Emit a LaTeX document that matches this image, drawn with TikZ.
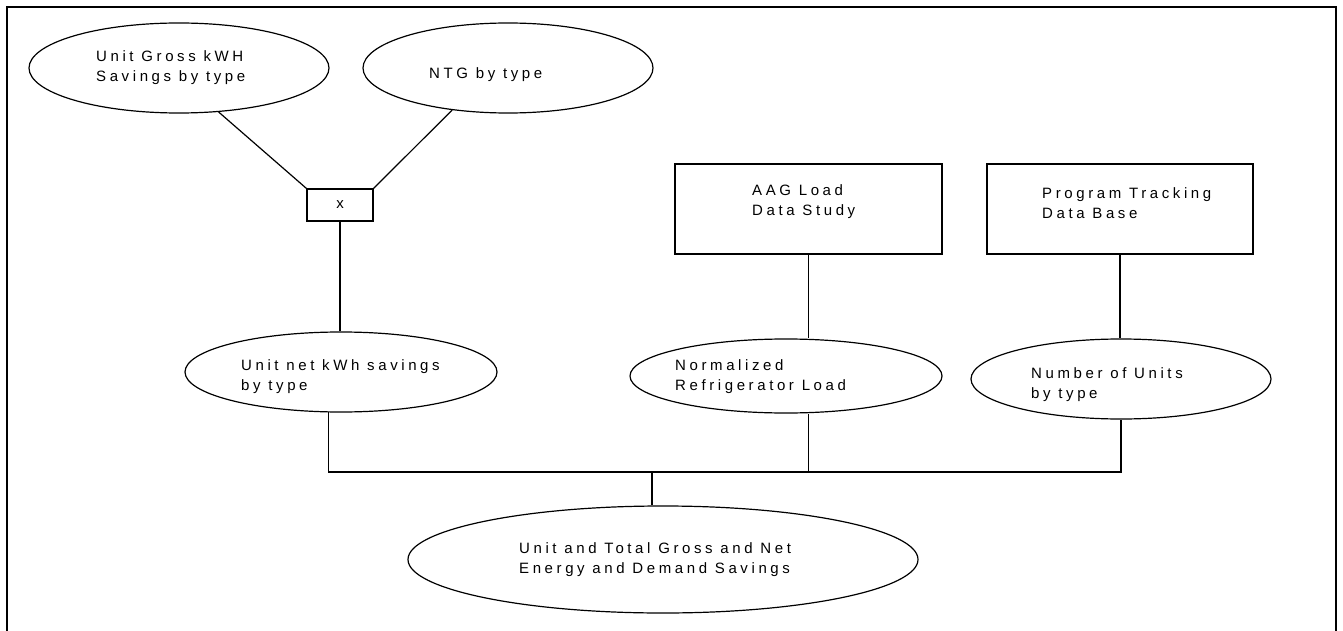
\documentclass[tikz,border=0pt]{standalone}
\usepackage{fontspec}
\usetikzlibrary{shapes.geometric}
\newfontfamily\arialsp[LetterSpace=24]{Liberation Sans}
\begin{document}
\begin{tikzpicture}[x=1pt,y=-1pt,
  oval/.style={draw,ellipse,line width=1.2pt,inner sep=0pt},
  boxnode/.style={draw,rectangle,line width=1.2pt,inner sep=0pt},
  txt/.style={inner sep=0pt,anchor=west,align=left,font=\arialsp\fontsize{15}{20}\selectfont},
  conn/.style={line width=1.2pt},
  framel/.style={line width=2pt}]
\useasboundingbox (0,0) rectangle (1343,631);
% frame
\coordinate (f1) at (7,640);
\coordinate (f2) at (7,7);
\coordinate (f3) at (1336,7);
\coordinate (f4) at (1336,640);
\draw[framel] (f1) -- (f2) -- (f3) -- (f4);
% nodes
\node[oval,minimum width=300pt,minimum height=90pt] (e1) at (179,68) {};
\node[txt] (t1) at (96,68) {Unit Gross kWH\\Savings by type};
\node[oval,minimum width=290pt,minimum height=90pt] (e2) at (508,68) {};
\node[txt] (t2) at (429,75) {NTG by type};
\node[boxnode,minimum width=66pt,minimum height=32pt,font=\arialsp\fontsize{15}{20}\selectfont] (xb) at (340,205) {x};
\node[oval,minimum width=312pt,minimum height=80pt] (e3) at (341,372) {};
\node[txt] (t3) at (241,377) {Unit net kWh savings\\by type};
\node[boxnode,minimum width=267pt,minimum height=90pt] (aag) at (808.5,209) {};
\node[txt] (taag) at (752,202) {AAG Load\\Data Study};
\node[boxnode,minimum width=266pt,minimum height=90pt] (ptd) at (1120,209) {};
\node[txt] (tptd) at (1042,203) {Program Tracking\\Data Base};
\node[oval,minimum width=312pt,minimum height=74pt] (e4) at (786,376) {};
\node[txt] (t4) at (675,377) {Normalized\\Refrigerator Load};
\node[oval,minimum width=300pt,minimum height=80pt] (e5) at (1121,379) {};
\node[txt] (t5) at (1031,385) {Number of Units\\by type};
\node[oval,minimum width=510pt,minimum height=107pt] (e6) at (663,559.5) {};
\node[txt] (t6) at (519,559.5) {Unit and Total Gross and Net\\Energy and Demand Savings};
\coordinate (bus) at (652,472);
% connectors
\draw[conn] (e1.-48) -- (xb.north west);
\draw[conn] (e2.-143) -- (xb.north east);
\draw[conn] (xb.south) -- (xb.south |- e3.north);
\draw[conn] (aag.south) -- (aag.south |- e4.north);
\draw[conn] (ptd.south) -- (ptd.south |- e5.north);
\draw[conn] (e3.-107) -- (e3.-107 |- bus) -- (e5.south |- bus) -- (e5.south);
\draw[conn] (aag.south |- e4.south) -- (aag.south |- bus);
\draw[conn] (bus) -- (bus |- e6.north);
\end{tikzpicture}
\end{document}
